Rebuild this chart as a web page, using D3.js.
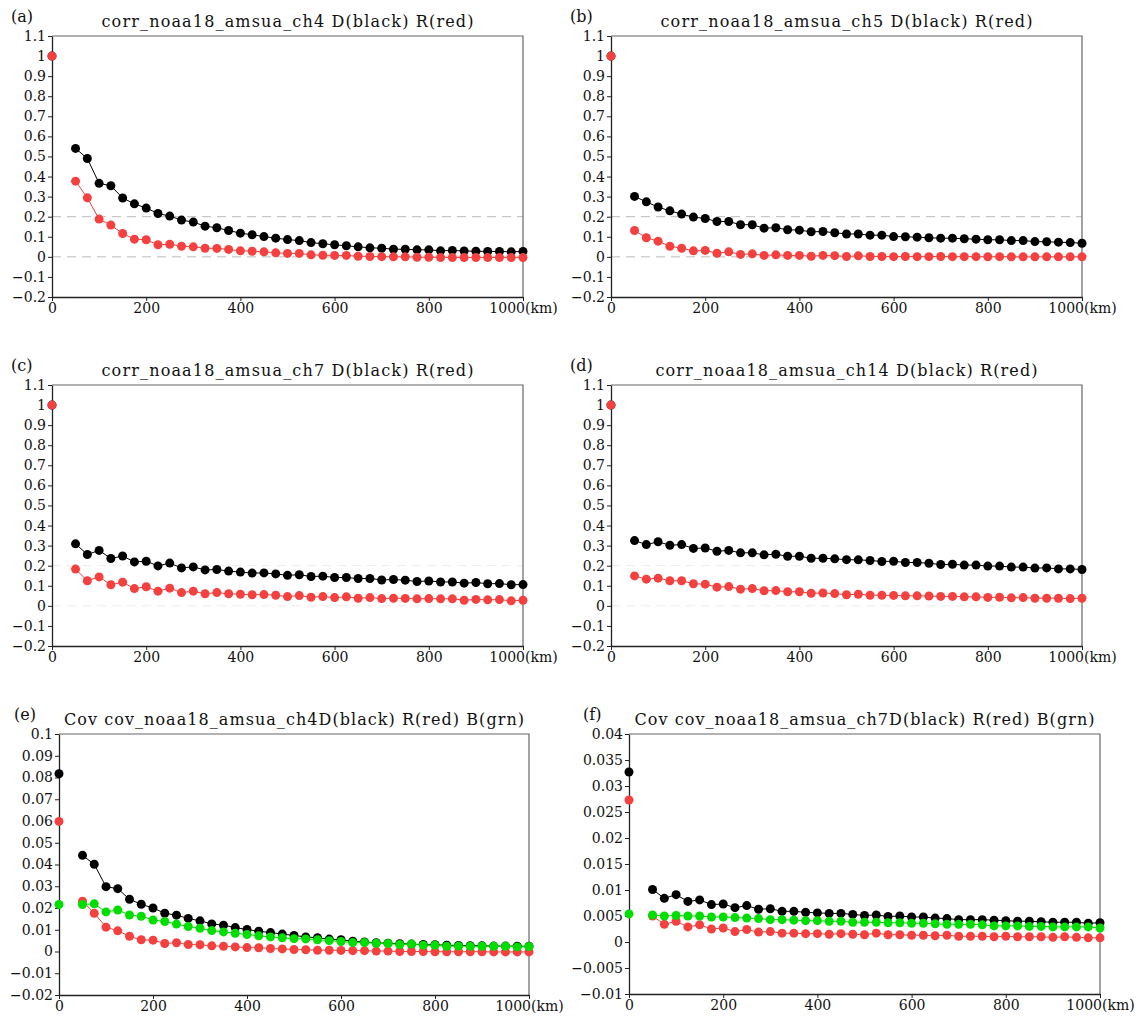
<!DOCTYPE html>
<html>
<head>
<meta charset="utf-8">
<script src="https://cdn.jsdelivr.net/npm/d3@7"></script>
<style>
  body { margin: 0; background: #fff; }
  text { font-family: "DejaVu Serif", serif; }
</style>
</head>
<body>
<div class="canvas"></div>
<script>
// lag distances (km); the point at 0 is drawn on its own, the line starts at 50
var dist = [0, 50, 75, 100, 125, 150, 175, 200, 225, 250, 275, 300, 325, 350, 375, 400, 425, 450, 475, 500,
  525, 550, 575, 600, 625, 650, 675, 700, 725, 750, 775, 800, 825, 850, 875, 900, 925, 950, 975, 1000];
var xTicks = [0, 200, 400, 600, 800, 1000];

// (a) ch4 correlation
var aBlack = [1, 0.54, 0.49, 0.366, 0.354, 0.293, 0.264, 0.243, 0.216, 0.203, 0.183, 0.173, 0.153, 0.145, 0.131, 0.118, 0.110, 0.101, 0.093, 0.086,
  0.081, 0.071, 0.065, 0.060, 0.055, 0.050, 0.045, 0.043, 0.038, 0.038, 0.035, 0.035, 0.030, 0.032, 0.029, 0.028, 0.027, 0.027, 0.025, 0.027];
var aRed = [1, 0.377, 0.294, 0.188, 0.158, 0.116, 0.088, 0.085, 0.060, 0.063, 0.053, 0.050, 0.043, 0.042, 0.037, 0.030, 0.028, 0.025, 0.020, 0.017,
  0.017, 0.010, 0.008, 0.007, 0.007, 0.003, 0.002, 0.001, 0.000, 0.000, -0.002, -0.002, -0.003, -0.003, -0.003, -0.003, -0.003, -0.003, -0.003, -0.003];
// (b) ch5
var bBlack = [1, 0.301, 0.274, 0.248, 0.229, 0.213, 0.198, 0.191, 0.176, 0.176, 0.160, 0.160, 0.143, 0.145, 0.135, 0.133, 0.125, 0.126, 0.120, 0.114,
  0.114, 0.108, 0.108, 0.101, 0.100, 0.098, 0.095, 0.093, 0.093, 0.090, 0.088, 0.085, 0.085, 0.081, 0.081, 0.076, 0.075, 0.073, 0.071, 0.068];
var bRed = [1, 0.131, 0.095, 0.078, 0.053, 0.043, 0.030, 0.032, 0.018, 0.025, 0.012, 0.015, 0.007, 0.010, 0.007, 0.007, 0.003, 0.007, 0.006, 0.002,
  0.005, 0.002, 0.002, 0.001, 0.002, 0.001, 0.001, 0.002, 0.001, 0.001, 0.001, 0.000, 0.001, 0.000, 0.000, 0.000, 0.000, 0.000, 0.000, 0.000];
// (c) ch7
var cBlack = [1, 0.309, 0.256, 0.276, 0.236, 0.248, 0.219, 0.222, 0.199, 0.213, 0.189, 0.194, 0.179, 0.181, 0.173, 0.168, 0.163, 0.164, 0.159, 0.152,
  0.155, 0.146, 0.148, 0.141, 0.141, 0.136, 0.136, 0.129, 0.131, 0.128, 0.121, 0.124, 0.119, 0.119, 0.113, 0.116, 0.110, 0.111, 0.105, 0.106];
var cRed = [1, 0.183, 0.125, 0.144, 0.105, 0.118, 0.086, 0.095, 0.073, 0.088, 0.066, 0.073, 0.060, 0.066, 0.060, 0.058, 0.055, 0.056, 0.053, 0.046,
  0.051, 0.043, 0.046, 0.041, 0.045, 0.038, 0.041, 0.036, 0.038, 0.037, 0.035, 0.036, 0.035, 0.035, 0.028, 0.032, 0.030, 0.031, 0.025, 0.028];
// (d) ch14
var dBlack = [1, 0.325, 0.305, 0.319, 0.302, 0.305, 0.286, 0.288, 0.272, 0.276, 0.264, 0.264, 0.254, 0.257, 0.247, 0.247, 0.237, 0.237, 0.234, 0.230,
  0.229, 0.226, 0.221, 0.222, 0.216, 0.216, 0.212, 0.206, 0.207, 0.203, 0.203, 0.198, 0.198, 0.193, 0.193, 0.188, 0.189, 0.184, 0.184, 0.181];
var dRed = [1, 0.149, 0.133, 0.138, 0.125, 0.125, 0.110, 0.108, 0.093, 0.096, 0.083, 0.086, 0.075, 0.076, 0.070, 0.070, 0.063, 0.064, 0.061, 0.055,
  0.058, 0.053, 0.053, 0.052, 0.050, 0.050, 0.049, 0.047, 0.047, 0.045, 0.045, 0.042, 0.043, 0.040, 0.041, 0.038, 0.038, 0.038, 0.036, 0.038];
// (e) ch4 covariance
var eBlack = [0.0817, 0.0442, 0.0401, 0.0298, 0.0289, 0.0240, 0.0217, 0.0200, 0.0176, 0.0167, 0.0152, 0.0141, 0.0127, 0.0121, 0.0110, 0.0101, 0.0093, 0.0087, 0.0080, 0.0074,
  0.0067, 0.0063, 0.0057, 0.0054, 0.0047, 0.0044, 0.0040, 0.0038, 0.0036, 0.0034, 0.0032, 0.0031, 0.0029, 0.0028, 0.0027, 0.0026, 0.0025, 0.0025, 0.0024, 0.0024];
var eRed = [0.0598, 0.0231, 0.0176, 0.0112, 0.0095, 0.0070, 0.0054, 0.0052, 0.0037, 0.0040, 0.0032, 0.0031, 0.0026, 0.0024, 0.0021, 0.0018, 0.0017, 0.0014, 0.0012, 0.0009,
  0.0008, 0.0006, 0.0006, 0.0005, 0.0004, 0.0004, 0.0002, 0.0002, 0.0000, 0.0000, 0.0000, -0.0001, -0.0001, -0.0001, -0.0001, -0.0001, -0.0002, -0.0002, -0.0002, -0.0002];
var eGreen = [0.0216, 0.0216, 0.0219, 0.0182, 0.0191, 0.0168, 0.0162, 0.0145, 0.0138, 0.0126, 0.0115, 0.0107, 0.0096, 0.0090, 0.0084, 0.0078, 0.0072, 0.0067, 0.0063, 0.0059,
  0.0058, 0.0054, 0.0050, 0.0046, 0.0041, 0.0041, 0.0038, 0.0037, 0.0032, 0.0034, 0.0029, 0.0029, 0.0024, 0.0025, 0.0024, 0.0024, 0.0024, 0.0024, 0.0021, 0.0023];
// (f) ch7 covariance
var fBlack = [0.0327, 0.0101, 0.0084, 0.0091, 0.0078, 0.0081, 0.0072, 0.0073, 0.0066, 0.0070, 0.0063, 0.0064, 0.0059, 0.0059, 0.0057, 0.0056, 0.0055, 0.0055, 0.0053, 0.0051,
  0.0052, 0.0049, 0.0050, 0.0048, 0.0048, 0.0046, 0.0045, 0.0043, 0.0043, 0.0043, 0.0042, 0.0041, 0.0040, 0.0040, 0.0039, 0.0038, 0.0038, 0.0038, 0.0036, 0.0037];
var fRed = [0.0273, 0.0050, 0.0034, 0.0040, 0.0029, 0.0033, 0.0025, 0.0027, 0.0020, 0.0024, 0.0019, 0.0020, 0.0017, 0.0017, 0.0016, 0.0016, 0.0015, 0.0016, 0.0015, 0.0014,
  0.0017, 0.0014, 0.0014, 0.0013, 0.0013, 0.0012, 0.0013, 0.0011, 0.0011, 0.0011, 0.0010, 0.0011, 0.0010, 0.0010, 0.0010, 0.0009, 0.0010, 0.0009, 0.0008, 0.0008];
var fGreen = [0.0054, 0.0052, 0.0050, 0.0051, 0.0050, 0.0050, 0.0048, 0.0048, 0.0047, 0.0046, 0.0045, 0.0043, 0.0043, 0.0042, 0.0041, 0.0041, 0.0040, 0.0040, 0.0038, 0.0038,
  0.0038, 0.0037, 0.0037, 0.0036, 0.0036, 0.0035, 0.0034, 0.0034, 0.0034, 0.0033, 0.0031, 0.0031, 0.0031, 0.0030, 0.0030, 0.0029, 0.0029, 0.0029, 0.0029, 0.0027];

var titles = [
  'corr_noaa18_amsua_ch4 D(black) R(red)',
  'corr_noaa18_amsua_ch5 D(black) R(red)',
  'corr_noaa18_amsua_ch7 D(black) R(red)',
  'corr_noaa18_amsua_ch14 D(black) R(red)',
  'Cov cov_noaa18_amsua_ch4D(black) R(red) B(grn)',
  'Cov cov_noaa18_amsua_ch7D(black) R(red) B(grn)'
];
var labels = ['(a)', '(b)', '(c)', '(d)', '(e)', '(f)'];
var corrTicks = [1.1, 1, 0.9, 0.8, 0.7, 0.6, 0.5, 0.4, 0.3, 0.2, 0.1, 0, -0.1, -0.2];
var covTicksE = [0.1, 0.09, 0.08, 0.07, 0.06, 0.05, 0.04, 0.03, 0.02, 0.01, 0, -0.01, -0.02];
var covTicksF = [0.04, 0.035, 0.03, 0.025, 0.02, 0.015, 0.01, 0.005, 0, -0.005, -0.01];

var RED = '#f54040', GRN = '#00dd00';

var panels = [
  {l:52,  t:36,  r:523,  b:297, lx:11,  ly:22,  ty:27,  tw:372, yt:corrTicks, dash:'#bbb',    series:[aBlack, aRed]},
  {l:611, t:36,  r:1082, b:297, lx:570, ly:22,  ty:27,  tw:372, yt:corrTicks, dash:'#bbb',    series:[bBlack, bRed]},
  {l:52,  t:385, r:523,  b:646, lx:11,  ly:371, ty:376, tw:372, yt:corrTicks, dash:'#ececec', series:[cBlack, cRed]},
  {l:611, t:385, r:1082, b:646, lx:570, ly:371, ty:376, tw:382, yt:corrTicks, dash:'#ececec', series:[dBlack, dRed]},
  {l:59,  t:734, r:529,  b:995, lx:14,  ly:720, ty:725, tw:460, yt:covTicksE, dash:null,      series:[eBlack, eRed, eGreen]},
  {l:629, t:734, r:1100, b:994, lx:583, ly:720, ty:725, tw:460, yt:covTicksF, dash:null,      series:[fBlack, fRed, fGreen]}
];
var colors = ['#000', RED, GRN];

var svg = d3.select('.canvas').append('svg')
  .attr('width', 1141).attr('height', 1019);

function fmt(d) {
  var s = String(+d.toFixed(4));
  return s.replace('-', '\u2212');
}

panels.forEach(function(p, i) {
  var yt = p.yt;
  var x = d3.scaleLinear().domain([0, 1000]).range([p.l, p.r]);
  var y = d3.scaleLinear().domain([yt[yt.length - 1], yt[0]]).range([p.b, p.t]);
  var g = svg.append('g');

  // dashed reference lines
  if (p.dash) {
    [0.2, 0].forEach(function(v) {
      g.append('line')
        .attr('x1', p.l).attr('x2', p.r)
        .attr('y1', y(v)).attr('y2', y(v))
        .attr('stroke', p.dash).attr('stroke-width', 1)
        .attr('stroke-dasharray', '9,6');
    });
  }

  // frame: top and right
  g.append('path')
    .attr('d', 'M' + p.l + ',' + p.t + 'H' + p.r + 'V' + p.b)
    .attr('fill', 'none').attr('stroke', '#666').attr('stroke-width', 1.2);

  var yAxis = g.append('g').attr('transform', 'translate(' + p.l + ',0)')
    .call(d3.axisLeft(y).tickValues(yt).tickSize(4).tickSizeOuter(0).tickFormat(fmt));
  var xAxis = g.append('g').attr('transform', 'translate(0,' + p.b + ')')
    .call(d3.axisBottom(x).tickValues(xTicks).tickSize(4).tickSizeOuter(0)
      .tickFormat(function(d) { return d === 1000 ? '1000(km)' : d; }));
  [yAxis, xAxis].forEach(function(a) {
    a.attr('font-family', '"DejaVu Serif", serif').attr('font-size', 14);
    a.selectAll('path').attr('stroke', '#222').attr('stroke-width', 1.3);
    a.selectAll('line').attr('stroke', '#222');
    a.selectAll('text').attr('fill', '#111');
  });
  yAxis.selectAll('text').attr('x', -6);
  xAxis.selectAll('text').attr('y', 6);

  // series: line from 50 km onwards, dots everywhere
  var line = d3.line()
    .defined(function(d, j) { return j > 0; })
    .x(function(d, j) { return x(dist[j]); })
    .y(function(d) { return y(d); });

  p.series.forEach(function(s, k) {
    g.append('path').datum(s)
      .attr('d', line)
      .attr('fill', 'none')
      .attr('stroke', colors[k])
      .attr('stroke-width', 1);
    g.selectAll('.dot' + k).data(s).enter().append('circle')
      .attr('class', 'dot' + k)
      .attr('cx', function(d, j) { return x(dist[j]); })
      .attr('cy', function(d) { return y(d); })
      .attr('r', 4.5)
      .attr('fill', colors[k]);
  });

  // titles
  g.append('text')
    .attr('x', p.lx).attr('y', p.ly)
    .attr('font-size', 16).attr('fill', '#111')
    .text(labels[i]);
  g.append('text')
    .attr('x', (p.l + p.r) / 2).attr('y', p.ty)
    .attr('text-anchor', 'middle')
    .attr('textLength', p.tw).attr('lengthAdjust', 'spacing')
    .attr('font-size', 16).attr('fill', '#111')
    .text(titles[i]);
});
</script>
</body>
</html>
